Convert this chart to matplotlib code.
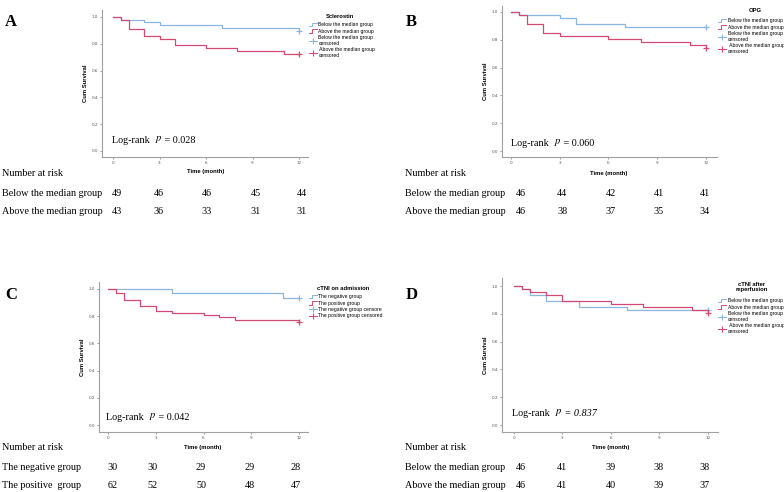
import matplotlib
matplotlib.use('Agg')
import matplotlib.pyplot as plt
from matplotlib.lines import Line2D
from matplotlib.legend_handler import HandlerBase

W, H = 784, 492
plt.rcParams['mathtext.fontset'] = 'stix'

# survival curves (time in months, cumulative survival)
a_below_t = [0, 0.5, 2, 3, 7, 12]
a_below_s = [1.0, 0.980, 0.959, 0.939, 0.918, 0.898]
a_above_t = [0, 0.5, 1, 2, 3, 4, 6, 8, 11, 12]
a_above_s = [1.0, 0.977, 0.907, 0.860, 0.837, 0.791, 0.767, 0.744, 0.721, 0.721]

b_below_t = [0, 0.5, 3, 4, 7, 12]
b_below_s = [1.0, 0.978, 0.957, 0.913, 0.891, 0.891]
b_above_t = [0, 0.5, 1, 2, 3, 6, 8, 11, 12]
b_above_s = [1.0, 0.978, 0.913, 0.848, 0.826, 0.804, 0.783, 0.761, 0.739]

c_neg_t = [0, 4, 11, 12]
c_neg_s = [1.0, 0.967, 0.933, 0.933]
c_pos_t = [0, 0.5, 1, 2, 3, 4, 6, 7, 8, 12]
c_pos_s = [1.0, 0.968, 0.919, 0.871, 0.839, 0.823, 0.806, 0.790, 0.774, 0.758]

d_below_t = [0, 0.5, 1, 2, 4, 7, 12]
d_below_s = [1.0, 0.978, 0.935, 0.891, 0.848, 0.826, 0.826]
d_above_t = [0, 0.5, 1, 2, 3, 6, 8, 11, 12]
d_above_s = [1.0, 0.978, 0.957, 0.935, 0.891, 0.870, 0.848, 0.826, 0.804]

# number at risk
risk_times = [0, 3, 6, 9, 12]
a_risk = [[49, 46, 46, 45, 44], [43, 36, 33, 31, 31]]
b_risk = [[46, 44, 42, 41, 41], [46, 38, 37, 35, 34]]
c_risk = [[30, 30, 29, 29, 28], [62, 52, 50, 48, 47]]
d_risk = [[46, 41, 39, 38, 38], [46, 41, 40, 39, 37]]

a_rows = ['Below the median group', 'Above the median group']
c_rows = ['The negative group', 'The positive  group']

a_leg = ['Below the median group', 'Above the median group',
         'Below the median group\ncensored', ' Above the median group\ncensored']
c_leg = ['The negative group', 'The positive group',
         'The negative group censore', 'The positive group censored']

pvals = ['0.028', '0.060', '0.042', '0.837']

BLUE = '#8ab6e0'
RED = '#d24a72'
SERIF = 'Liberation Serif'
SANS = 'Liberation Sans'
FS = 7.3


class StepHandler(HandlerBase):
    # legend icon: small step for the curve, line with + for censored
    def __init__(self, color, censored):
        super().__init__()
        self.color = color
        self.censored = censored

    def create_artists(self, legend, orig_handle, xdescent, ydescent,
                       width, height, fontsize, trans):
        if self.censored:
            ln = Line2D([0, width], [height / 2, height / 2], color=self.color, lw=0.7,
                        transform=trans)
            mk = Line2D([width / 2], [height / 2], color=self.color, marker='+',
                        markersize=5, mew=0.8, transform=trans)
            return [ln, mk]
        ln = Line2D([0, width * 0.35, width * 0.35, width],
                    [0, 0, height, height], color=self.color, lw=0.7,
                    transform=trans)
        return [ln]


fig = plt.figure(figsize=(W / 100, H / 100), dpi=100)


def px(x, y):
    return x / W, 1 - y / H


def panel(box, xl, yl, curves, letter, lpos, ptext, ppos, leg_title, title_pos,
          leg_labels, leg_pos, rows, risk, rx, ry, nar_pos, time_pos):
    l, t, r, b = box
    ax = fig.add_axes([l / W, 1 - b / H, (r - l) / W, (b - t) / H])
    for (tt, ss), col in zip(curves, [BLUE, RED]):
        ax.step(tt, ss, where='post', color=col, lw=0.9)
        ax.plot(tt[-1], ss[-1], marker='+', color=col, markersize=5, mew=0.9)
    ax.set_xlim(*xl)
    ax.set_ylim(*yl)
    ax.set_xticks(risk_times)
    ax.set_yticks([0.0, 0.2, 0.4, 0.6, 0.8, 1.0])
    ax.set_yticklabels(['0.0', '0.2', '0.4', '0.6', '0.8', '1.0'])
    ax.tick_params(labelsize=3, length=1.2, width=0.4, pad=1.5, colors='#555555')
    for s in ['top', 'right']:
        ax.spines[s].set_visible(False)
    for s in ['left', 'bottom']:
        ax.spines[s].set_color('#a0a0a0')
        ax.spines[s].set_linewidth(0.8)
    ax.set_ylabel('Cum Survival', fontsize=4.2, fontweight='bold', family=SANS, labelpad=3)
    fig.text(*px(*time_pos), 'Time (month)', fontsize=4.2, fontweight='bold',
             family=SANS, ha='center', va='center')

    fig.text(*px(*lpos), letter, fontsize=12, fontweight='bold', family=SERIF,
             ha='left', va='center')

    # Log-rank p text, pieces chained one after another
    t1 = fig.text(*px(*ppos), 'Log-rank  ', fontsize=FS, family=SERIF,
                  ha='left', va='baseline')
    style = 'italic' if letter == 'D' else 'normal'
    a2 = fig.add_artist(plt.Annotation(r'$p$', xy=(1, 0), xycoords=t1, ha='left',
                                       va='bottom', fontsize=FS + 0.3))
    fig.add_artist(plt.Annotation(' = ' + ptext, xy=(1, 0), xycoords=a2, ha='left',
                                  va='bottom', fontsize=FS, family=SERIF, style=style))

    fig.text(*px(*title_pos), leg_title, fontsize=4.2, fontweight='bold', family=SANS,
             ha='center', va='center', linespacing=1.0)
    handles = [Line2D([], []) for _ in range(4)]
    hmap = {handles[0]: StepHandler(BLUE, False), handles[1]: StepHandler(RED, False),
            handles[2]: StepHandler(BLUE, True), handles[3]: StepHandler(RED, True)}
    fig.legend(handles, leg_labels, handler_map=hmap, loc='upper left',
               bbox_to_anchor=px(*leg_pos), frameon=False,
               prop={'family': SANS, 'size': 3.6},
               handlelength=1.6, handletextpad=0.3, labelspacing=0.3,
               borderaxespad=0, borderpad=0)

    fig.text(*px(*nar_pos), 'Number at risk', fontsize=FS, family=SERIF,
             ha='left', va='center')
    for i, (lab, vals) in enumerate(zip(rows, risk)):
        y = ry[i]
        fig.text(*px(nar_pos[0], y), lab, fontsize=FS, family=SERIF, ha='left', va='center')
        for x, v in zip(rx, vals):
            fig.text(*px(x, y), str(v), fontsize=FS, family=SERIF, ha='center', va='center')
    return ax


panel((102, 10, 308, 157), (-0.71, 12.58), (-0.045, 1.052),
      [(a_below_t, a_below_s), (a_above_t, a_above_s)], 'A', (5, 22), pvals[0], (112, 143),
      'Sclerostin', (340, 16), a_leg, (309, 22), a_rows, a_risk,
      [117, 159, 207, 256, 302], [193, 212], (2, 174), (206, 172))

panel((502, 6, 717, 157), (-0.55, 12.68), (-0.043, 1.043),
      [(b_below_t, b_below_s), (b_above_t, b_above_s)], 'B', (406, 22), pvals[1], (511, 146),
      'OPG', (755, 10), a_leg, (718, 18), a_rows, b_risk,
      [521, 562, 611, 659, 705], [193, 212], (405, 174), (609, 173))

panel((99, 282, 308, 432), (-0.57, 12.57), (-0.051, 1.05),
      [(c_neg_t, c_neg_s), (c_pos_t, c_pos_s)], 'C', (5, 295), pvals[2], (106, 420),
      'cTNI on admission', (343, 288), c_leg, (309, 294), c_rows, c_risk,
      [113, 153, 201, 250, 296], [467, 485], (2, 448), (203, 447))

panel((502, 278, 718, 432), (-0.74, 12.62), (-0.05, 1.058),
      [(d_below_t, d_below_s), (d_above_t, d_above_s)], 'D', (406, 295), pvals[3], (512, 416),
      'cTNI after\nreperfusion', (752, 287), a_leg, (718, 298), a_rows, d_risk,
      [521, 562, 611, 659, 705], [467, 485], (405, 448), (611, 447))

fig.savefig('out.png', dpi=100)
